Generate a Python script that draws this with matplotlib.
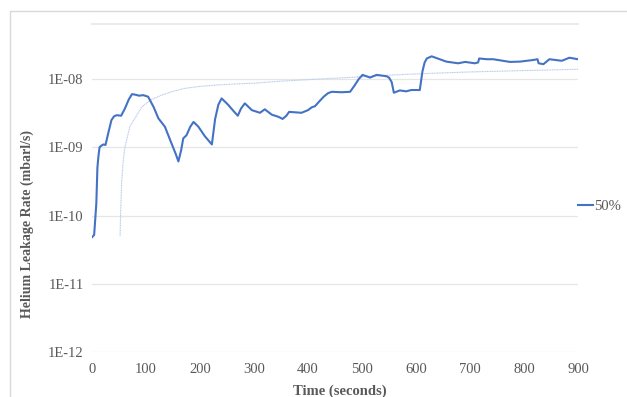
import matplotlib
matplotlib.use('Agg')
import matplotlib.pyplot as plt
from matplotlib.patches import Rectangle
from matplotlib.ticker import FixedLocator, NullLocator

# leak test at 50% load: time (s) vs helium leakage rate (mbar l/s)
time_s = [0, 4, 8, 10, 12, 14, 17, 21, 25, 30, 36, 41, 46, 54, 61, 68, 74, 80,
          87, 95, 104, 114, 123, 135, 148, 155, 160, 165, 169, 175, 182, 188,
          197, 209, 222, 228, 234, 240, 252, 262, 270, 276, 283, 296, 311,
          320, 333, 345, 353, 360, 365, 388, 400, 407, 413, 422, 429, 437,
          444, 462, 478, 487, 494, 501, 515, 527, 545, 550, 555, 559, 570,
          582, 591, 607, 612, 616, 620, 629, 644, 656, 678, 691, 709, 715,
          717, 731, 743, 774, 793, 817, 825, 827, 836, 847, 870, 884, 900]
leak_50 = [4.8e-11, 5.2e-11, 1.5e-10, 5.0e-10, 7.5e-10, 1.0e-9, 1.05e-9,
           1.1e-9, 1.08e-9, 1.6e-9, 2.5e-9, 2.85e-9, 2.95e-9, 2.9e-9,
           3.7e-9, 5.0e-9, 6.0e-9, 5.9e-9, 5.7e-9, 5.8e-9, 5.5e-9, 3.9e-9,
           2.65e-9, 2.0e-9, 1.1e-9, 8.0e-10, 6.2e-10, 9.0e-10, 1.35e-9,
           1.5e-9, 2.0e-9, 2.35e-9, 2.0e-9, 1.45e-9, 1.1e-9, 2.6e-9, 4.2e-9,
           5.2e-9, 4.2e-9, 3.4e-9, 2.9e-9, 3.7e-9, 4.4e-9, 3.5e-9, 3.2e-9,
           3.6e-9, 3.0e-9, 2.8e-9, 2.6e-9, 2.9e-9, 3.3e-9, 3.2e-9, 3.5e-9,
           3.85e-9, 4.0e-9, 4.8e-9, 5.5e-9, 6.2e-9, 6.5e-9, 6.4e-9, 6.5e-9,
           8.2e-9, 1.0e-8, 1.15e-8, 1.05e-8, 1.15e-8, 1.1e-8, 1.05e-8,
           9.0e-9, 6.3e-9, 6.8e-9, 6.6e-9, 6.9e-9, 6.9e-9, 1.3e-8, 1.75e-8,
           2.0e-8, 2.15e-8, 1.95e-8, 1.8e-8, 1.7e-8, 1.78e-8, 1.7e-8, 1.75e-8,
           2.0e-8, 1.95e-8, 1.95e-8, 1.78e-8, 1.8e-8, 1.9e-8, 1.95e-8,
           1.7e-8, 1.65e-8, 1.95e-8, 1.85e-8, 2.05e-8, 1.95e-8]

# trend curve (starts at ~52 s)
trend_t = [52, 53, 55, 58, 61, 70, 80, 92, 110, 129, 150, 172, 200, 233,
           270, 302, 350, 422, 500, 560, 626, 700, 800, 900]
trend_v = [5.0e-11, 1.1e-10, 3.2e-10, 6.5e-10, 1.0e-9, 2.0e-9, 2.7e-9,
           3.9e-9, 5.0e-9, 5.8e-9, 6.6e-9, 7.3e-9, 7.8e-9, 8.2e-9, 8.5e-9,
           8.7e-9, 9.3e-9, 1.0e-8, 1.08e-8, 1.15e-8, 1.21e-8, 1.27e-8,
           1.33e-8, 1.39e-8]

x_ticks = [0, 100, 200, 300, 400, 500, 600, 700, 800, 900]
y_ticks = [1e-12, 1e-11, 1e-10, 1e-9, 1e-8]
y_labels = ['1E-12', '1E-11', '1E-10', '1E-09', '1E-08']
y_top = 6.4e-8

plt.rcParams['font.family'] = ['Liberation Serif', 'DejaVu Serif']
GREY = '#595959'

fig = plt.figure(figsize=(6.27, 3.97), dpi=100)
W, H = 627.0, 397.0

# chart area frame
fig.patches.append(Rectangle((10 / W, -0.1), 1.2, 1 - 11 / H + 0.1,
                             transform=fig.transFigure, fill=False,
                             edgecolor='#D9D9D9', linewidth=1.0))

ax = fig.add_axes([92 / W, 45 / H, 486 / W, 328 / H])
ax.set_yscale('log')
ax.set_ylim(1e-12, y_top)
ax.set_xlim(0, 900)

ax.plot(trend_t, trend_v, color='#B8CBEA', linewidth=0.8, linestyle=(0, (1, 0.5)))
line, = ax.plot(time_s, leak_50, color='#4472C4', linewidth=1.5, label='50%')

ax.yaxis.set_major_locator(FixedLocator(y_ticks))
ax.yaxis.set_minor_locator(NullLocator())
ax.set_yticklabels(y_labels)
ax.set_xticks(x_ticks)
ax.grid(axis='y', color='#E6E6E6', linewidth=0.9)
ax.tick_params(length=0, labelsize=10.5, colors=GREY, pad=6)
ax.tick_params(axis='x', pad=8)
for s in ax.spines.values():
    s.set_visible(False)
ax.spines['top'].set_visible(True)
ax.spines['top'].set_color('#EBEBEB')
ax.spines['top'].set_linewidth(1.5)

fig.text(27 / W, 1 - 224 / H, 'Helium Leakage Rate (mbarl/s)', rotation=90,
         ha='center', va='center', fontsize=10, fontweight='bold', color=GREY)
fig.text(340 / W, 1 - 391 / H, 'Time (seconds)', ha='center', va='center',
         fontsize=10.5, fontweight='bold', color=GREY)

fig.legend(handles=[line], loc='center left', bbox_to_anchor=(578 / W, 1 - 206 / H),
           frameon=False, fontsize=10.5, handlelength=1.0, handletextpad=0.1,
           labelcolor=GREY, borderpad=0, borderaxespad=0)

fig.savefig('out.png', dpi=100)
